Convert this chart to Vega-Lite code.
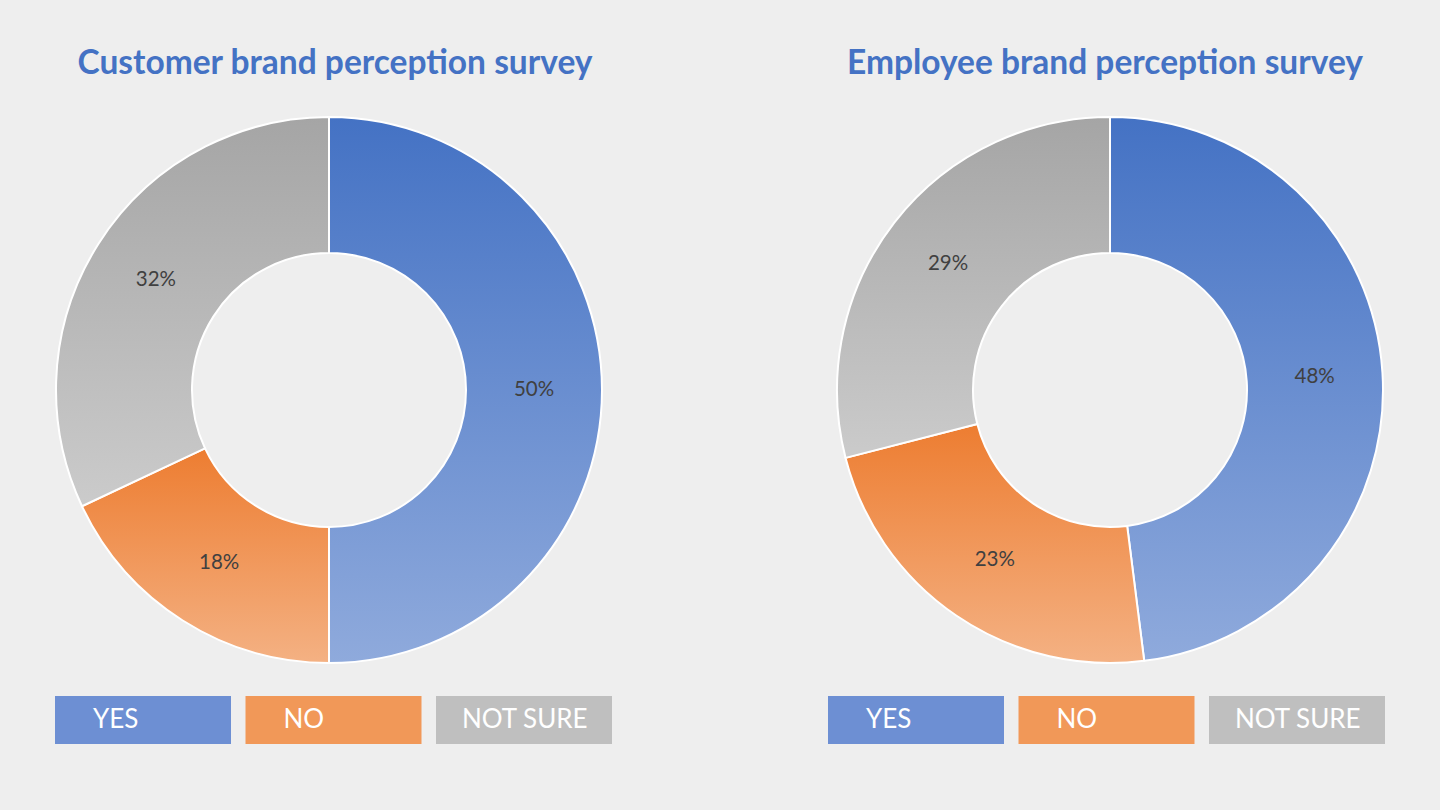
{
  "$schema": "https://vega.github.io/schema/vega-lite/v6.json",
  "background": "#eeeeee",
  "padding": {"left": 0, "top": 0, "right": 0, "bottom": 30},
  "spacing": 122,
  "config": {"view": {"stroke": null}},
  "resolve": {"scale": {"color": "independent", "theta": "independent"}, "legend": {"color": "independent"}},
  "hconcat": [
    {
      "width": 658,
      "height": 780,
      "title": {"text": "Customer brand perception survey", "frame": "group", "anchor": "middle", "orient": "top", "offset": -107, "baseline": "alphabetic", "dx": 6, "font": "Lato", "fontSize": 33.5, "fontWeight": "bold", "color": "#4472C4"},
      "data": {"values": [
        {"answer": "YES", "share": 0.50, "order": 1},
        {"answer": "NO", "share": 0.18, "order": 2},
        {"answer": "NOT SURE", "share": 0.32, "order": 3}
      ]},
      "layer": [
        {
          "mark": {"type": "arc", "outerRadius": 273, "innerRadius": 137, "stroke": "white", "strokeWidth": 2},
          "encoding": {
            "theta": {"field": "share", "type": "quantitative", "stack": true},
            "order": {"field": "order", "type": "quantitative"},
            "fill": {
              "condition": [
                {"test": "datum.answer === 'YES'", "value": {"gradient": "linear", "x1": 0, "y1": 0, "x2": 0, "y2": 1, "stops": [{"offset": 0, "color": "#4472C4"}, {"offset": 1, "color": "#8FAADC"}]}},
                {"test": "datum.answer === 'NO'", "value": {"gradient": "linear", "x1": 0, "y1": 0, "x2": 0, "y2": 1, "stops": [{"offset": 0, "color": "#ED7D31"}, {"offset": 1, "color": "#F4B183"}]}}
              ],
              "value": {"gradient": "linear", "x1": 0, "y1": 0, "x2": 0, "y2": 1, "stops": [{"offset": 0, "color": "#A5A5A5"}, {"offset": 1, "color": "#CBCBCB"}]}
            }
          }
        },
        {
          "mark": {"type": "text", "radius": 205, "font": "Lato", "fontSize": 20.5, "color": "#404040"},
          "encoding": {
            "theta": {"field": "share", "type": "quantitative", "stack": true},
            "order": {"field": "order", "type": "quantitative"},
            "text": {"field": "share", "type": "quantitative", "format": ".0%"}
          }
        },
        {
          "mark": {"type": "text", "text": ""},
          "encoding": {
            "color": {
              "field": "answer", "type": "nominal",
              "scale": {"domain": ["YES", "NO", "NOT SURE"], "range": ["#6D8FD3", "#F19858", "#BFBFBF"]},
              "legend": {"orient": "none", "legendX": 55, "legendY": 632, "direction": "horizontal", "title": null, "symbolType": "M-1,-0.2727H1V0.2727H-1Z", "symbolSize": 30976, "symbolStrokeWidth": 0, "symbolOpacity": 1, "labelOffset": -138, "labelColor": "white", "labelFont": "Lato", "labelFontSize": 26, "labelLimit": 300, "columnPadding": 14.5, "padding": 0,
                "encode": {"labels": {"update": {"dx": {"signal": "datum.label === 'NOT SURE' ? -12 : 0"}}}}}
            }
          }
        }
      ]
    },
    {
      "width": 660,
      "height": 780,
      "title": {"text": "Employee brand perception survey", "frame": "group", "anchor": "middle", "orient": "top", "offset": -107, "baseline": "alphabetic", "dx": -5, "font": "Lato", "fontSize": 33.5, "fontWeight": "bold", "color": "#4472C4"},
      "data": {"values": [
        {"answer": "YES", "share": 0.48, "order": 1},
        {"answer": "NO", "share": 0.23, "order": 2},
        {"answer": "NOT SURE", "share": 0.29, "order": 3}
      ]},
      "layer": [
        {
          "mark": {"type": "arc", "outerRadius": 273, "innerRadius": 137, "stroke": "white", "strokeWidth": 2},
          "encoding": {
            "theta": {"field": "share", "type": "quantitative", "stack": true},
            "order": {"field": "order", "type": "quantitative"},
            "fill": {
              "condition": [
                {"test": "datum.answer === 'YES'", "value": {"gradient": "linear", "x1": 0, "y1": 0, "x2": 0, "y2": 1, "stops": [{"offset": 0, "color": "#4472C4"}, {"offset": 1, "color": "#8FAADC"}]}},
                {"test": "datum.answer === 'NO'", "value": {"gradient": "linear", "x1": 0, "y1": 0, "x2": 0, "y2": 1, "stops": [{"offset": 0, "color": "#ED7D31"}, {"offset": 1, "color": "#F4B183"}]}}
              ],
              "value": {"gradient": "linear", "x1": 0, "y1": 0, "x2": 0, "y2": 1, "stops": [{"offset": 0, "color": "#A5A5A5"}, {"offset": 1, "color": "#CBCBCB"}]}
            }
          }
        },
        {
          "mark": {"type": "text", "radius": 205, "font": "Lato", "fontSize": 20.5, "color": "#404040"},
          "encoding": {
            "theta": {"field": "share", "type": "quantitative", "stack": true},
            "order": {"field": "order", "type": "quantitative"},
            "text": {"field": "share", "type": "quantitative", "format": ".0%"}
          }
        },
        {
          "mark": {"type": "text", "text": ""},
          "encoding": {
            "color": {
              "field": "answer", "type": "nominal",
              "scale": {"domain": ["YES", "NO", "NOT SURE"], "range": ["#6D8FD3", "#F19858", "#BFBFBF"]},
              "legend": {"orient": "none", "legendX": 48, "legendY": 632, "direction": "horizontal", "title": null, "symbolType": "M-1,-0.2727H1V0.2727H-1Z", "symbolSize": 30976, "symbolStrokeWidth": 0, "symbolOpacity": 1, "labelOffset": -138, "labelColor": "white", "labelFont": "Lato", "labelFontSize": 26, "labelLimit": 300, "columnPadding": 14.5, "padding": 0,
                "encode": {"labels": {"update": {"dx": {"signal": "datum.label === 'NOT SURE' ? -12 : 0"}}}}}
            }
          }
        }
      ]
    }
  ]
}
